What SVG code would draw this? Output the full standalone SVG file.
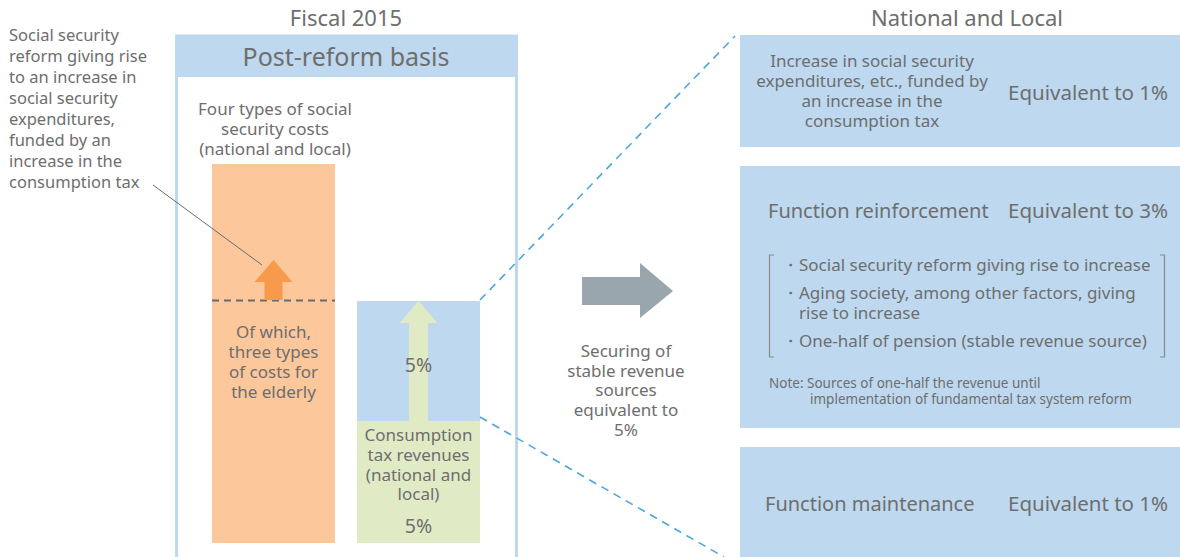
<svg xmlns="http://www.w3.org/2000/svg" width="1180" height="557" viewBox="0 0 1180 557">
<style>
text{font-family:"Noto Sans","Open Sans","Liberation Sans",sans-serif;fill:#6e6e6e}
.c{text-anchor:middle}
.s16{font-size:16.5px}
.s17{font-size:17px}
.s20{font-size:20px}
.eq{font-size:20.5px}
.t{font-size:22px}
.s14{font-size:13.5px}
.pct{font-size:19.5px}
.blue{fill:#bdd8ef}
.dash{stroke:#4da6e0;stroke-width:1.6;stroke-dasharray:8 6;fill:none}
</style>
<g id="titles">
<text class="c t" x="346" y="26">Fiscal 2015</text>
<text class="c t" x="967" y="26">National and Local</text>
</g>
<g id="left-panel">
<rect x="176.5" y="36" width="340" height="530" fill="#fff" stroke="#bdd8ef" stroke-width="3"/>
<rect class="blue" x="175" y="35" width="343" height="42"/>
<text class="c" x="346" y="66" style="font-size:25px">Post-reform basis</text>
<text class="c s17" x="275" y="115">Four types of social</text>
<text class="c s17" x="275" y="135">security costs</text>
<text class="c s17" x="275" y="155">(national and local)</text>
</g>
<g id="annotation">
<text class="s16" x="9"><tspan x="9" y="41">Social security</tspan><tspan x="9" y="62">reform giving rise</tspan><tspan x="9" y="83">to an increase in</tspan><tspan x="9" y="104">social security</tspan><tspan x="9" y="125">expenditures,</tspan><tspan x="9" y="146">funded by an</tspan><tspan x="9" y="167">increase in the</tspan><tspan x="9" y="188">consumption tax</tspan></text>
</g>
<g id="cost-bar">
<rect x="212" y="164" width="123" height="379" fill="#fbc79b"/>
<line x1="212" y1="300.5" x2="335" y2="300.5" stroke="#6b6b6b" stroke-width="2" stroke-dasharray="7 5"/>
<polygon points="273.5,260 292.5,282 282.5,282 282.5,300 264.5,300 264.5,282 254.5,282" fill="#f79a4b"/>
<text class="c s17" x="273.5" y="338">Of which,</text>
<text class="c s17" x="273.5" y="358">three types</text>
<text class="c s17" x="273.5" y="378">of costs for</text>
<text class="c s17" x="273.5" y="398">the elderly</text>
</g>
<g id="tax-bar">
<rect class="blue" x="357" y="301" width="123" height="120"/>
<rect x="357" y="421" width="123" height="122" fill="#e0ebc6"/>
<polygon points="418.5,301 437.5,323 428,323 428,421 409,421 409,323 399.5,323" fill="#e0ebc6"/>
<text class="c pct" x="418.5" y="372">5%</text>
<text class="c s17" x="418.5" y="441">Consumption</text>
<text class="c s17" x="418.5" y="461">tax revenues</text>
<text class="c s17" x="418.5" y="481">(national and</text>
<text class="c s17" x="418.5" y="500">local)</text>
<text class="c pct" x="418.5" y="533">5%</text>
</g>
<g id="connectors">
<line x1="153" y1="185" x2="262" y2="265" stroke="#6b6b6b" stroke-width="1"/>
<line class="dash" x1="480" y1="300" x2="735" y2="36"/>
<line class="dash" x1="480" y1="417" x2="724" y2="557"/>
</g>
<g id="transfer">
<polygon points="582,277 640,277 640,263 673,291 640,318 640,305 582,305" fill="#9aa6ae"/>
<text class="c s17" x="626" y="357">Securing of</text>
<text class="c s17" x="626" y="377">stable revenue</text>
<text class="c s17" x="626" y="396">sources</text>
<text class="c s17" x="626" y="416">equivalent to</text>
<text class="c s17" x="626" y="436">5%</text>
</g>
<g id="box-increase">
<rect class="blue" x="740" y="35" width="440" height="112"/>
<text class="c s17" x="872" y="67">Increase in social security</text>
<text class="c s17" x="872" y="87">expenditures, etc., funded by</text>
<text class="c s17" x="872" y="107">an increase in the</text>
<text class="c s17" x="872" y="127">consumption tax</text>
<text class="eq" x="1008" y="100">Equivalent to 1%</text>
</g>
<g id="box-reinforcement">
<rect class="blue" x="740" y="166" width="440" height="262"/>
<text class="s20" x="768" y="218">Function reinforcement</text>
<text class="eq" x="1008" y="218">Equivalent to 3%</text>
<path d="M774,255 H769.5 V357 H774 M1160,255 H1164.5 V357 H1160" fill="none" stroke="#8a8a8a" stroke-width="1.2"/>
<text class="s17" x="782" y="271">・Social security reform giving rise to increase</text>
<text class="s17" x="782" y="299">・Aging society, among other factors, giving</text>
<text class="s17" x="799" y="319">rise to increase</text>
<text class="s17" x="782" y="347">・One-half of pension (stable revenue source)</text>
<text class="s14" x="769" y="388">Note: Sources of one-half the revenue until</text>
<text class="s14" x="810" y="404">implementation of fundamental tax system reform</text>
</g>
<g id="box-maintenance">
<rect class="blue" x="740" y="447" width="440" height="110"/>
<text class="s20" x="765" y="511">Function maintenance</text>
<text class="eq" x="1008" y="511">Equivalent to 1%</text>
</g>
</svg>
